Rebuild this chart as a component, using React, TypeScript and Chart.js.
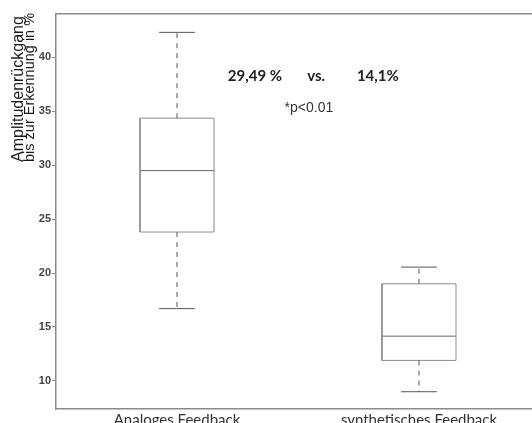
import React, { useEffect, useRef } from 'react';
import { Chart, registerables } from 'chart.js';

Chart.register(...registerables);

// ---- data ----
const categories = ['Analoges Feedback', 'synthetisches Feedback'];
const whiskerLow = [16.7, 9.0];
const quartile1 = [23.8, 11.9];
const medians = [29.49, 14.15];
const quartile3 = [34.35, 19.0];
const whiskerHigh = [42.3, 20.55];
const yTicks = [10, 15, 20, 25, 30, 35, 40];
const yTitleLines = ['Amplitudenrückgang', 'bis zur Erkennung in %'];
const annotationTexts = ['29,49 %', 'vs.', '14,1%', '*p<0.01'];
const annotationX = [1.322, 1.575, 1.83, 1.545];
const annotationY = [38.25, 38.25, 38.25, 35.3];
const annotationBold = [true, true, true, false];

// ---- styles ----
const BOX_HALF = 0.153;
const CAP_HALF = 0.074;
const AXIS_COLOR = '#8a8a8a';

function seg(points: { x: number; y: number }[], color: string, dash: number[] = []) {
  return {
    type: 'line' as const,
    data: points,
    borderColor: color,
    borderWidth: 1,
    borderDash: dash,
    pointRadius: 0,
    pointHoverRadius: 0,
    fill: false,
    tension: 0,
    showLine: true,
    parsing: false as const,
  };
}

function buildDatasets() {
  const ds: any[] = [];
  categories.forEach((_, i) => {
    const x = i + 1;
    ds.push(seg([{ x, y: quartile3[i] }, { x, y: whiskerHigh[i] }], '#555', [5, 5]));
    ds.push(seg([{ x, y: quartile1[i] }, { x, y: whiskerLow[i] }], '#555', [5, 5]));
    ds.push(seg([{ x: x - CAP_HALF, y: whiskerHigh[i] }, { x: x + CAP_HALF, y: whiskerHigh[i] }], '#555'));
    ds.push(seg([{ x: x - CAP_HALF, y: whiskerLow[i] }, { x: x + CAP_HALF, y: whiskerLow[i] }], '#555'));
    ds.push(
      seg(
        [
          { x: x - BOX_HALF, y: quartile1[i] },
          { x: x + BOX_HALF, y: quartile1[i] },
          { x: x + BOX_HALF, y: quartile3[i] },
          { x: x - BOX_HALF, y: quartile3[i] },
          { x: x - BOX_HALF, y: quartile1[i] },
        ],
        '#8c8c8c'
      )
    );
    ds.push(seg([{ x: x - BOX_HALF, y: medians[i] }, { x: x + BOX_HALF, y: medians[i] }], '#666'));
  });
  return ds;
}

const annotationPlugin = {
  id: 'annotTexts',
  afterDatasetsDraw(chart: any) {
    const { ctx, scales } = chart;
    ctx.save();
    ctx.textAlign = 'center';
    ctx.textBaseline = 'middle';
    annotationTexts.forEach((t, i) => {
      const px = scales.x.getPixelForValue(annotationX[i]);
      const py = scales.y.getPixelForValue(annotationY[i]);
      if (annotationBold[i]) {
        ctx.font = 'bold 15px Lato';
        ctx.fillStyle = '#222';
      } else {
        ctx.font = '14px "Liberation Sans"';
        ctx.fillStyle = '#333';
      }
      ctx.fillText(t, px, py);
    });
    ctx.restore();
  },
};

// y-axis title: two lines with different sizes, drawn rotated next to the axis
const yTitlePlugin = {
  id: 'yTitle',
  afterDraw(chart: any) {
    const { ctx, chartArea } = chart;
    const startY = chartArea.top + 148;
    const fonts = ['16px "Liberation Sans"', '14.5px "Liberation Sans"'];
    const baselines = [23, 33.5];
    ctx.save();
    ctx.fillStyle = '#1a1a1a';
    ctx.textAlign = 'left';
    ctx.textBaseline = 'alphabetic';
    yTitleLines.forEach((line, i) => {
      ctx.save();
      ctx.translate(baselines[i], startY);
      ctx.rotate(-Math.PI / 2);
      ctx.font = fonts[i];
      ctx.fillText(line, 0, 0);
      ctx.restore();
    });
    ctx.restore();
  },
};

export default function App() {
  const ref = useRef<HTMLCanvasElement | null>(null);

  useEffect(() => {
    if (!ref.current) return;
    const chart = new Chart(ref.current, {
      type: 'scatter',
      data: { datasets: buildDatasets() },
      plugins: [annotationPlugin, yTitlePlugin],
      options: {
        animation: false,
        responsive: true,
        maintainAspectRatio: false,
        layout: { padding: { top: 14, left: 0, right: 0, bottom: 0 } },
        plugins: {
          legend: { display: false },
          tooltip: { enabled: false },
          title: { display: false },
        },
        scales: {
          x: {
            type: 'linear',
            position: 'bottom',
            min: 0.5,
            max: 2.467,
            afterBuildTicks: (s: any) => {
              s.ticks = categories.map((_, i) => ({ value: i + 1 }));
            },
            afterFit: (s: any) => {
              s.height = 14;
            },
            ticks: {
              autoSkip: false,
              maxRotation: 0,
              padding: -6,
              color: '#333',
              font: { family: 'Lato', size: 15 },
              callback: (v: any) => categories[Number(v) - 1] ?? '',
            },
            grid: { display: false },
            border: { display: true, color: AXIS_COLOR, width: 1.5 },
          },
          xTop: {
            type: 'linear',
            position: 'top',
            min: 0.5,
            max: 2.467,
            afterFit: (s: any) => {
              s.height = 0;
            },
            ticks: { display: false },
            grid: { display: false },
            border: { display: true, color: AXIS_COLOR, width: 1.5 },
          },
          y: {
            type: 'linear',
            min: 7.4,
            max: 44,
            afterBuildTicks: (s: any) => {
              s.ticks = yTicks.map((v) => ({ value: v }));
            },
            afterFit: (s: any) => {
              s.width = 56;
            },
            ticks: {
              padding: 1,
              color: '#444',
              font: { family: 'Liberation Sans', size: 11, weight: 'bold' },
            },
            grid: { drawOnChartArea: false, drawTicks: true, tickLength: 4, color: AXIS_COLOR },
            border: { display: true, color: AXIS_COLOR, width: 1.5 },
            title: { display: false },
          },
        },
      } as any,
    });
    return () => chart.destroy();
  }, []);

  return (
    <div style={{ position: 'fixed', left: 0, top: 0, width: 532, height: 423, background: '#fff' }}>
      <canvas ref={ref} />
    </div>
  );
}
